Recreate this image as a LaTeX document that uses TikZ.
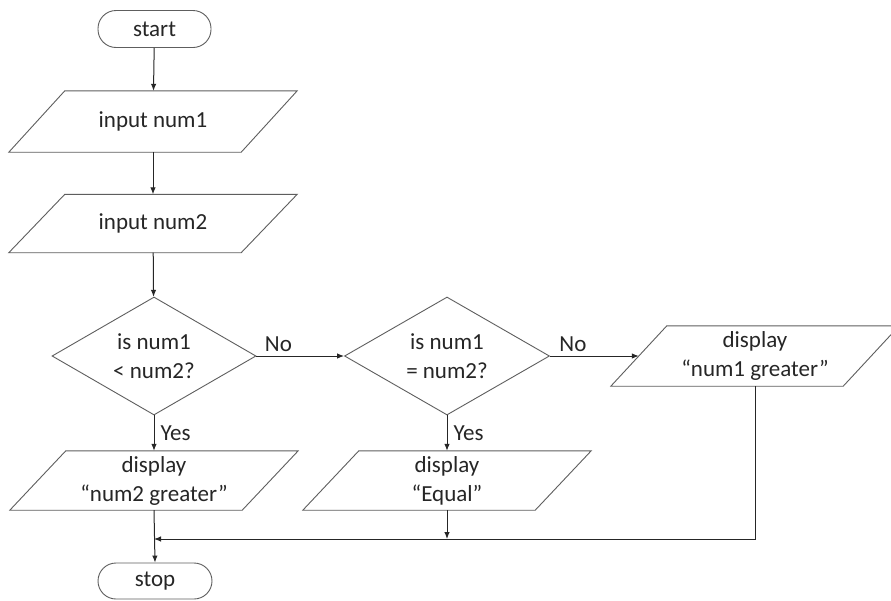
\documentclass[tikz,border=0pt]{standalone}
\usepackage{fontspec}
\setmainfont{Carlito}
\usetikzlibrary{shapes.geometric,arrows.meta,calc}
\definecolor{txt}{HTML}{262626}
\definecolor{edge}{HTML}{5E5E5E}
\begin{document}
\begin{tikzpicture}[x=1pt,y=-1pt,
  every node/.style={text=txt, font=\fontsize{23}{29}\selectfont},
  term/.style={draw=edge, line width=0.9pt, rounded corners=18pt, minimum width=113pt, minimum height=37pt, inner sep=0pt},
  iobox/.style={minimum width=232pt, minimum height=60pt, inner sep=0pt, align=center},
  para/.style={draw=edge, line width=0.9pt},
  decision/.style={diamond, draw=edge, line width=0.9pt, minimum width=204pt, minimum height=118pt, inner sep=0pt, aspect=1.73, align=center},
  flow/.style={draw=black!85, line width=1pt, -{Latex[length=7pt,width=5.5pt]}},
  lbl/.style={inner sep=0pt}
]
\useasboundingbox[fill=white] (0,0) rectangle (891,600);

\node[term] (start) at (154.5,29) {start};
\node[iobox, minimum height=61pt] (in1) at (153,121.5) {input num1};
\node[iobox, minimum height=58pt] (in2) at (153,223.5) {input num2};
\node[decision] (dia1) at (154,356) {is num1\\< num2?};
\node[decision, minimum width=205pt] (dia2) at (447,356) {is num1\\= num2?};
\node[iobox] (d1) at (755,356) {display\\“num1 greater”};
\node[iobox, minimum height=59pt] (d2) at (154,480.5) {display\\“num2 greater”};
\node[iobox, minimum height=59pt] (d3) at (447,480.5) {display\\“Equal”};
\node[term, minimum width=114pt, minimum height=36pt] (stop) at (155,581) {stop};

\foreach \n in {in1,in2,d1,d2,d3}{
  \draw[para] ([xshift=28pt]\n.north west) -- ([xshift=28pt]\n.north east)
    -- ([xshift=-28pt]\n.south east) -- ([xshift=-28pt]\n.south west) -- cycle;
}

\coordinate (m) at (154,539);
\coordinate (m3) at (447,539);

\draw[flow] (start) -- (in1);
\draw[flow] (in1) -- (in2);
\draw[flow] (in2) -- (dia1);
\draw[flow] (dia1.east) -- (dia2.west)
  node[lbl, pos=0, anchor=base west, xshift=8pt, yshift=5pt] {No};
\draw[flow] (dia2.east) -- (d1.west)
  node[lbl, pos=0, anchor=base west, xshift=9pt, yshift=5pt] {No};
\draw[flow] (dia1.south) -- (d2.north)
  node[lbl, pos=0, anchor=base west, xshift=6pt, yshift=-25pt] {Yes};
\draw[flow] (dia2.south) -- (d3.north)
  node[lbl, pos=0, anchor=base west, xshift=6pt, yshift=-25pt] {Yes};
\draw[flow] (d2.south) -- (stop.north);
\draw[flow] (d3.south) -- (m3);
\draw[flow] (d1.south) |- (m);
\end{tikzpicture}
\end{document}
